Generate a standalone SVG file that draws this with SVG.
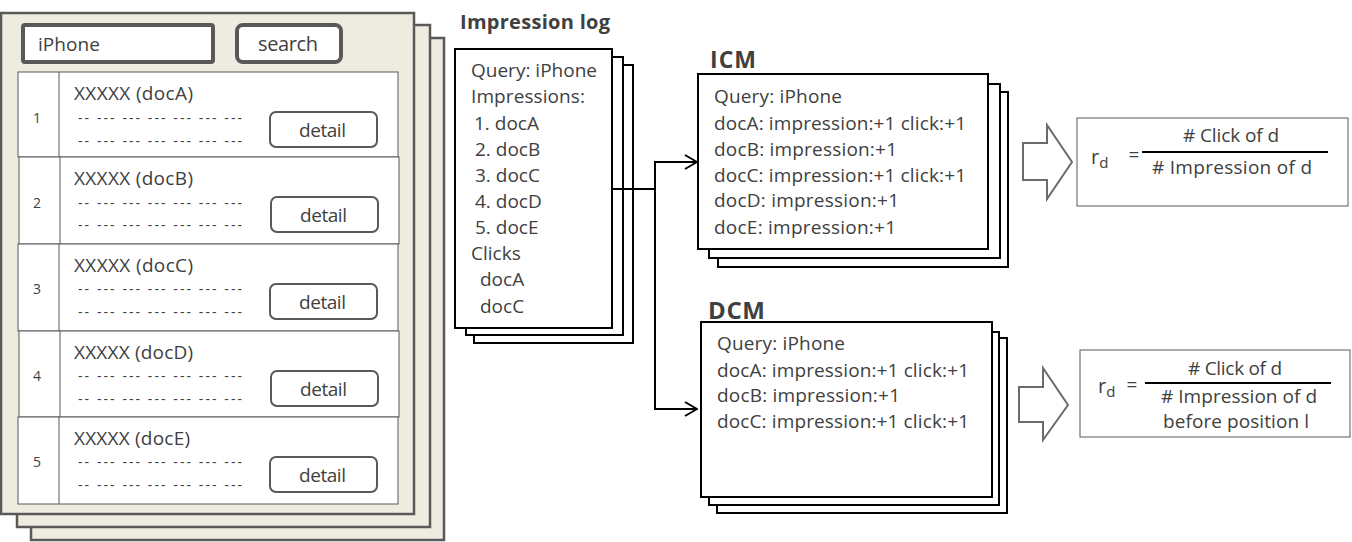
<svg xmlns="http://www.w3.org/2000/svg" width="1352" height="542" viewBox="0 0 1352 542">
<defs>
<style>
text{font-family:"Open Sans","Noto Sans","DejaVu Sans",sans-serif;fill:#404040}
.page{fill:#EEEBE0;stroke:#595959;stroke-width:2.5}
.row{fill:#fff;stroke:#595959;stroke-width:1}
.btn{fill:#fff;stroke:#595959;stroke-width:2}
.sbox{fill:#fff;stroke:#595959;stroke-width:4}
.card{fill:#fff;stroke:#000;stroke-width:2}
.t19{font-size:19px}
.num{font-size:14px;text-anchor:middle}
.dash{font-size:14px}
.title{font-weight:bold}
.conn{fill:none;stroke:#000;stroke-width:2}
.blk{fill:#fff;stroke:#6b6b6b;stroke-width:2}
.fbox{fill:#fff;stroke:#595959;stroke-width:1}
.f19{font-size:19px}
</style>
<marker id="arr" viewBox="0 0 14 16" refX="13" refY="8" markerWidth="14" markerHeight="16" markerUnits="userSpaceOnUse" orient="auto">
<path d="M1,1 L13,8 L1,15" fill="none" stroke="#000" stroke-width="2"/>
</marker>
</defs>

<g id="search-page">
<rect class="page" x="31" y="38" width="413" height="502"/>
<rect class="page" x="17" y="25" width="413" height="502"/>
<rect class="page" x="1" y="13" width="413" height="501"/>
<rect class="sbox" x="23" y="25" width="190" height="37" rx="2"/>
<text x="38" y="51" font-size="19" textLength="62">iPhone</text>
<rect class="sbox" x="237" y="25" width="104" height="37" rx="6"/>
<text x="258" y="51" font-size="20" textLength="60">search</text>

<g id="row1">
<rect class="row" x="18" y="72" width="380" height="85"/>
<line x1="59" y1="72" x2="59" y2="157" stroke="#595959"/>
<text class="num" x="37" y="123">1</text>
<text class="t19" x="74" y="100" textLength="119">XXXXX (docA)</text>
<text class="dash" x="78" y="123" textLength="164">-- --- --- --- --- --- ---</text>
<text class="dash" x="78" y="146" textLength="164">-- --- --- --- --- --- ---</text>
<rect class="btn" x="270" y="112" width="107" height="35" rx="6"/>
<text class="t19" x="299" y="137" textLength="47">detail</text>
</g>
<g id="row2">
<rect class="row" x="19" y="157" width="380" height="87"/>
<line x1="60" y1="157" x2="60" y2="244" stroke="#595959"/>
<text class="num" x="37" y="208">2</text>
<text class="t19" x="74" y="185" textLength="119">XXXXX (docB)</text>
<text class="dash" x="78" y="208" textLength="164">-- --- --- --- --- --- ---</text>
<text class="dash" x="78" y="230" textLength="164">-- --- --- --- --- --- ---</text>
<rect class="btn" x="271" y="197" width="107" height="35" rx="6"/>
<text class="t19" x="300" y="222" textLength="47">detail</text>
</g>
<g id="row3">
<rect class="row" x="18" y="244" width="380" height="87"/>
<line x1="59" y1="244" x2="59" y2="331" stroke="#595959"/>
<text class="num" x="37" y="294">3</text>
<text class="t19" x="74" y="272" textLength="119">XXXXX (docC)</text>
<text class="dash" x="78" y="294" textLength="164">-- --- --- --- --- --- ---</text>
<text class="dash" x="78" y="317" textLength="164">-- --- --- --- --- --- ---</text>
<rect class="btn" x="270" y="284" width="107" height="35" rx="6"/>
<text class="t19" x="299" y="309" textLength="47">detail</text>
</g>
<g id="row4">
<rect class="row" x="19" y="331" width="380" height="86"/>
<line x1="60" y1="331" x2="60" y2="417" stroke="#595959"/>
<text class="num" x="37" y="381">4</text>
<text class="t19" x="74" y="359" textLength="119">XXXXX (docD)</text>
<text class="dash" x="78" y="381" textLength="164">-- --- --- --- --- --- ---</text>
<text class="dash" x="78" y="404" textLength="164">-- --- --- --- --- --- ---</text>
<rect class="btn" x="271" y="371" width="107" height="35" rx="6"/>
<text class="t19" x="300" y="396" textLength="47">detail</text>
</g>
<g id="row5">
<rect class="row" x="18" y="417" width="380" height="87"/>
<line x1="59" y1="417" x2="59" y2="504" stroke="#595959"/>
<text class="num" x="37" y="467">5</text>
<text class="t19" x="74" y="445" textLength="116">XXXXX (docE)</text>
<text class="dash" x="78" y="467" textLength="164">-- --- --- --- --- --- ---</text>
<text class="dash" x="78" y="490" textLength="164">-- --- --- --- --- --- ---</text>
<rect class="btn" x="270" y="457" width="107" height="35" rx="6"/>
<text class="t19" x="299" y="482" textLength="47">detail</text>
</g>
</g>

<g id="impression-log">
<text class="title" x="460" y="29" font-size="20" textLength="150">Impression log</text>
<rect class="card" x="474" y="65" width="159" height="278"/>
<rect class="card" x="466" y="57" width="157" height="278"/>
<rect class="card" x="455" y="49" width="157" height="279"/>
<g class="t19">
<text x="471" y="77" textLength="126">Query: iPhone</text>
<text x="471" y="103" textLength="114">Impressions:</text>
<text x="474" y="130">1. docA</text>
<text x="475" y="156">2. docB</text>
<text x="475" y="182">3. docC</text>
<text x="475" y="208">4. docD</text>
<text x="475" y="234">5. docE</text>
<text x="471" y="260">Clicks</text>
<text x="480" y="286">docA</text>
<text x="480" y="313">docC</text>
</g>
</g>

<g id="icm">
<text class="title" x="710" y="68" font-size="23" textLength="46">ICM</text>
<rect class="card" x="718" y="92" width="290" height="175"/>
<rect class="card" x="709" y="84" width="291" height="174"/>
<rect class="card" x="698" y="74" width="290" height="175"/>
<g class="t19">
<text x="714" y="103" textLength="128">Query: iPhone</text>
<text x="714" y="130" textLength="252">docA: impression:+1 click:+1</text>
<text x="714" y="156" textLength="183">docB: impression:+1</text>
<text x="714" y="182" textLength="252">docC: impression:+1 click:+1</text>
<text x="714" y="207" textLength="185">docD: impression:+1</text>
<text x="714" y="234" textLength="182">docE: impression:+1</text>
</g>
</g>

<g id="dcm">
<text class="title" x="708" y="319" font-size="24" textLength="57">DCM</text>
<rect class="card" x="717" y="338" width="290" height="175"/>
<rect class="card" x="709" y="332" width="290" height="173"/>
<rect class="card" x="701" y="322" width="291" height="175"/>
<g class="t19">
<text x="717" y="350" textLength="128">Query: iPhone</text>
<text x="717" y="377" textLength="252">docA: impression:+1 click:+1</text>
<text x="717" y="402" textLength="183">docB: impression:+1</text>
<text x="717" y="428" textLength="252">docC: impression:+1 click:+1</text>
</g>
</g>

<g id="connectors">
<polyline class="conn" points="612,189 655,189"/>
<line class="conn" x1="655" y1="161" x2="655" y2="410"/>
<polyline class="conn" points="655,162 697,162" marker-end="url(#arr)"/>
<polyline class="conn" points="655,409 697,409" marker-end="url(#arr)"/>
</g>

<g id="arrow-icm">
<polygon class="blk" points="1023,143 1047,143 1047,125 1072,162 1047,199 1047,180 1023,180"/>
</g>
<g id="formula-icm">
<rect class="fbox" x="1077" y="118" width="271" height="88"/>
<text x="1091" y="164" font-size="20">r<tspan font-size="15" dy="4">d</tspan></text>
<text x="1134" y="161" font-size="19" text-anchor="middle">=</text>
<line x1="1142" y1="152" x2="1328" y2="152" stroke="#000" stroke-width="2"/>
<text class="f19" x="1183" y="142" textLength="96"># Click of d</text>
<text class="f19" x="1152" y="174" textLength="160"># Impression of d</text>
</g>

<g id="arrow-dcm">
<polygon class="blk" points="1019,387 1043,387 1043,368 1068,405 1043,440 1043,422 1019,422"/>
</g>
<g id="formula-dcm">
<rect class="fbox" x="1080" y="350" width="270" height="87"/>
<text x="1098" y="393" font-size="20">r<tspan font-size="15" dy="4">d</tspan></text>
<text x="1132" y="391" font-size="19" text-anchor="middle">=</text>
<line x1="1145" y1="383" x2="1331" y2="383" stroke="#000" stroke-width="2"/>
<text class="f19" x="1188" y="375" textLength="94"># Click of d</text>
<text class="f19" x="1161" y="403" textLength="156"># Impression of d</text>
<text class="f19" x="1163" y="428" textLength="146">before position l</text>
</g>
</svg>
